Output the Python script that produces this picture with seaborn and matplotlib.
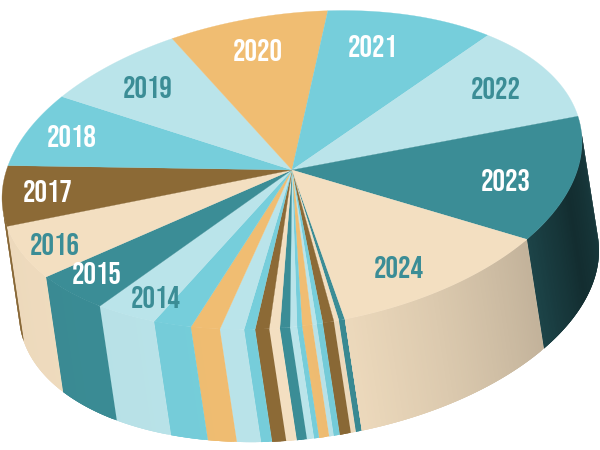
import numpy as np
import seaborn as sns
import matplotlib.pyplot as plt

sns.set_theme(style="white")
plt.rcParams['font.family'] = ['Bebas Neue', 'Oswald', 'Barlow Condensed', 'Roboto', 'DejaVu Sans']

years = list(range(1999, 2025))
values = [1.2, 1.0, 2.2, 1.2, 0.9, 2.0, 1.0, 1.4, 2.0, 2.1, 2.8, 2.2, 4.9,
          6.0, 8.0, 13.1, 16.5, 21.4, 22.3, 25.8, 28.1, 31.5, 35.4, 37.9, 45.5, 43.6]
colors = sns.color_palette(["#3b8d96", "#f3dfc1", "#8c6a36", "#76cedb",
                            "#bae4ea", "#f0bd72", "#76cedb", "#bae4ea"])

label_years = [2014, 2015, 2016, 2017, 2018, 2019, 2020, 2021, 2022, 2023, 2024]
label_colors = ["#3b8d96", "white", "#3b8d96", "white", "white", "#3b8d96",
                "white", "white", "#3b8d96", "white", "#3b8d96"]
label_x = [156, 97, 55, 48, 72, 148, 258, 373, 496, 506, 399]
label_y = [297, 273, 244, 191, 136, 87, 50, 46, 88, 180, 267]

# shape of the disc in pixels
cx, cy = 292, 170
start = 79.5
depth_x, depth_y = 17, 112

# wall shading against rim angle
shade_t = [-6, 5, 18, 30, 35.8, 36, 60, 79, 90, 180]
shade_f = [0.42, 0.38, 0.32, 0.42, 0.48, 0.80, 0.90, 0.97, 1.0, 0.97]


def rim(t):
    r = np.radians(t)
    return 292 + 290 * np.cos(r), 170 - 28 * np.cos(r) + 157 * np.sin(r)


def drop(t):
    # the wall is a little taller on the left
    return depth_y - 3.5 * np.cos(np.radians(t))


fig = plt.figure(figsize=(6, 4.5), dpi=100)
ax = fig.add_axes([0, 0, 1, 1])
ax.set_xlim(0, 600)
ax.set_ylim(450, 0)
ax.axis("off")

edges = start + np.cumsum([0] + values) * 360 / sum(values)

# side walls first, each strip runs under the next one so no seams show
for i in range(len(values)):
    ts = np.append(np.arange(edges[i], edges[i + 1], 0.5), edges[i + 1])
    for a, b in zip(ts[:-1], ts[1:]):
        x0, y0 = rim(a)
        x1, y1 = rim(b)
        # skip the part of the wall facing away
        if (x1 - x0) * depth_y - (y1 - y0) * depth_x > 0:
            continue
        e = min(b + 1, edges[i + 1])
        x2, y2 = rim(e)
        m = (a + b) / 2
        m = m - 360 if m > 270 else m
        f = np.interp(m, shade_t, shade_f)
        c = np.array(colors[i % 8]) * f
        ax.fill([x0, x1, x2, x2 + depth_x, x1 + depth_x, x0 + depth_x],
                [y0, y1, y2, y2 + drop(e), y1 + drop(b), y0 + drop(a)],
                color=c, lw=0)

# top of the disc
for i in range(len(values)):
    ts = np.linspace(edges[i], edges[i + 1], 60)
    xs, ys = rim(ts)
    ax.fill(np.append(cx, xs), np.append(cy, ys), color=colors[i % 8], lw=0.2)

for y, c, lx, ly in zip(label_years, label_colors, label_x, label_y):
    ax.text(lx, ly, str(y), color=c, fontsize=22.5, ha="center", va="center")

fig.savefig("out.png", dpi=100)
